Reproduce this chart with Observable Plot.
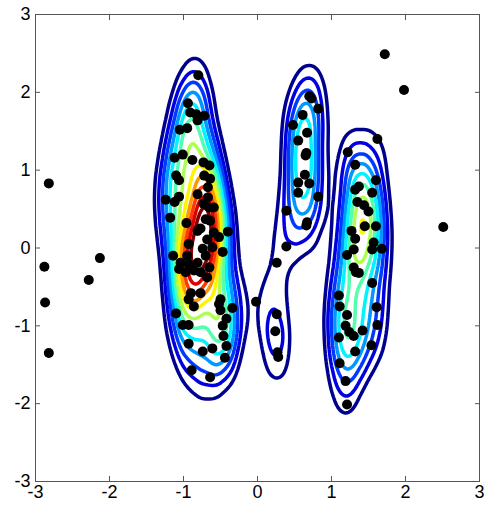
<!DOCTYPE html>
<html><head>
<meta charset="utf-8">
<script src="https://cdn.jsdelivr.net/npm/d3@7"></script>
<script src="https://cdn.jsdelivr.net/npm/@observablehq/plot@0.6"></script>
<style>body{margin:0;background:#fff}</style>
</head><body><div id="chart"></div>
<script>
// scatter points
const pointX = [
  -0.80,-0.94,-0.91,-0.83,-0.72,-0.81,-1.05,-0.95,-1.12,-1.01,-0.88,-0.73,-0.65,-1.10,-1.06,-0.72,-0.64,-0.67,
  -1.24,-1.06,-1.12,-0.81,-0.67,-0.73,-0.65,-0.59,-1.18,-0.70,-0.64,-0.96,-0.77,-0.81,-0.59,-0.40,-0.68,-0.52,
  -0.93,-0.74,-0.47,-0.61,-1.14,-0.95,-0.70,-1.04,-0.93,-0.81,-1.06,-0.86,-0.65,-0.97,-0.77,-0.68,-0.90,-0.77,
  -0.93,-0.50,-0.86,-0.52,-0.34,-0.50,-1.10,-0.42,-1.01,-0.93,-0.47,-0.46,-0.93,-0.42,-0.61,-0.74,-0.44,-0.89,-0.64,
  0.70,0.73,0.82,0.61,0.48,0.67,0.55,0.66,0.65,0.64,0.55,0.70,0.55,0.82,0.39,0.67,0.66,0.39,0.26,-0.02,0.26,0.24,0.27,0.28,
  1.72,1.98,2.51,1.62,1.22,1.32,1.60,1.37,1.32,1.55,1.35,1.44,1.50,1.45,1.60,1.27,1.32,1.57,1.68,1.55,1.30,1.21,1.30,1.33,
  1.37,1.55,1.10,1.11,1.61,1.21,1.62,1.19,1.24,1.30,1.42,1.10,1.54,1.32,1.11,1.19,1.21,
  -2.82,-2.88,-2.87,-2.82,-2.13,-2.28
];
const pointY = [
  2.22,1.86,1.74,1.72,1.70,1.64,1.52,1.54,1.16,1.20,1.13,1.10,1.06,0.93,0.87,0.93,0.89,0.78,
  0.62,0.66,0.59,0.69,0.65,0.57,0.52,0.52,0.39,0.37,0.35,0.32,0.25,0.22,0.20,0.21,0.11,0.14,
  0.05,-0.01,-0.05,0.01,-0.10,-0.10,-0.10,-0.19,-0.21,-0.19,-0.27,-0.29,-0.25,-0.31,-0.31,-0.38,-0.58,-0.58,
  -0.66,-0.66,-0.75,-0.72,-0.77,-0.80,-0.84,-0.91,-0.99,-0.99,-1.00,-1.13,-1.23,-1.26,-1.29,-1.33,-1.41,-1.57,-1.66,
  1.95,1.92,1.79,1.71,1.58,1.48,1.38,1.22,1.19,0.94,0.84,0.83,0.71,0.66,0.48,0.33,0.29,0.02,-0.19,-0.69,-0.85,-1.07,-1.34,-1.40,
  2.49,2.03,0.27,1.40,1.23,1.07,0.87,0.79,0.75,0.71,0.59,0.55,0.47,0.28,0.28,0.22,0.12,0.07,-0.01,-0.02,-0.02,-0.09,-0.25,-0.31,
  -0.32,-0.45,-0.61,-0.75,-0.76,-0.86,-0.99,-1.00,-1.08,-1.13,-1.06,-1.15,-1.25,-1.33,-1.48,-1.71,-2.01,
  0.83,-0.24,-0.70,-1.35,-0.13,-0.41
];
const tickValues = [-3,-2,-1,0,1,2,3];
const jetColors = ["#00008f","#0000ff","#0080ff","#00ffff","#80ff80","#ffff00","#ff8000","#ff0000","#800000"];
const levelCount = 12;      // contour levels, as fractions of the peak density
const levelLow = 0.12, levelHigh = 0.92;

const points = pointX.map((x, i) => ({x, y: pointY[i]}));
const fmt = d => String(d);
const W = 488, H = 516, ML = 35, MR = 9, MT = 14, MB = 35;
const stretch = 2.6; // density is estimated with a narrower kernel across x than along y
const bw = 28;

function densityFrame(thresholds, colorDomain) {
  return Plot.plot({
    width: (W - ML - MR) * stretch, height: H - MT - MB, margin: 0,
    x: {domain: [-3, 3], axis: null}, y: {domain: [-3, 3], axis: null},
    color: {type: "linear", interpolate: d3.piecewise(d3.interpolateRgb, jetColors), ...(colorDomain ? {domain: colorDomain} : {})},
    marks: [Plot.density(points, {x: "x", y: "y", bandwidth: bw, thresholds, stroke: "density", strokeWidth: 3.5})]
  });
}
// first pass: find the peak density
const probe = densityFrame(60);
const peak = probe.scale("color").domain[1];
const levels = d3.range(levelCount).map(i => (levelLow + i * (levelHigh - levelLow) / (levelCount - 1)) * peak);
const densityPlot = densityFrame(levels, [levels[0], levels[levels.length - 1]]);

const chart = Plot.plot({
  width: W, height: H,
  marginLeft: ML, marginRight: MR, marginTop: MT, marginBottom: MB,
  x: {domain: [-3, 3]},
  y: {domain: [-3, 3]},
  style: {fontFamily: "'Liberation Sans', Arial, sans-serif", fontSize: "18px", color: "#000", background: "#fff"},
  marks: [
    Plot.dot(points, {x: "x", y: "y", r: 5, fill: "#000", stroke: null}),
    Plot.frame({stroke: "#555"}),
    Plot.axisX(tickValues, {anchor: "bottom", tickSize: 0, tickPadding: 4, tickFormat: fmt, fontSize: 18, label: null}),
    Plot.axisY(tickValues, {anchor: "left", tickSize: 0, tickPadding: 5, tickFormat: fmt, fontSize: 18, label: null}),
    Plot.axisX(tickValues, {anchor: "bottom", tickSize: -5, text: null, stroke: "#555", label: null}),
    Plot.axisX(tickValues, {anchor: "top", tickSize: -5, text: null, stroke: "#555", label: null}),
    Plot.axisY(tickValues, {anchor: "left", tickSize: -5, text: null, stroke: "#555", label: null}),
    Plot.axisY(tickValues, {anchor: "right", tickSize: -5, text: null, stroke: "#555", label: null})
  ]
});

const dg = densityPlot.querySelector('g[aria-label="density"]');
dg.setAttribute("transform", `translate(${ML},${MT}) scale(${1 / stretch},1)`);
dg.querySelectorAll("path").forEach(p => p.setAttribute("vector-effect", "non-scaling-stroke"));
chart.insertBefore(dg, chart.querySelector('g[aria-label="dot"]'));
document.getElementById("chart").appendChild(chart);
</script>
</body></html>
